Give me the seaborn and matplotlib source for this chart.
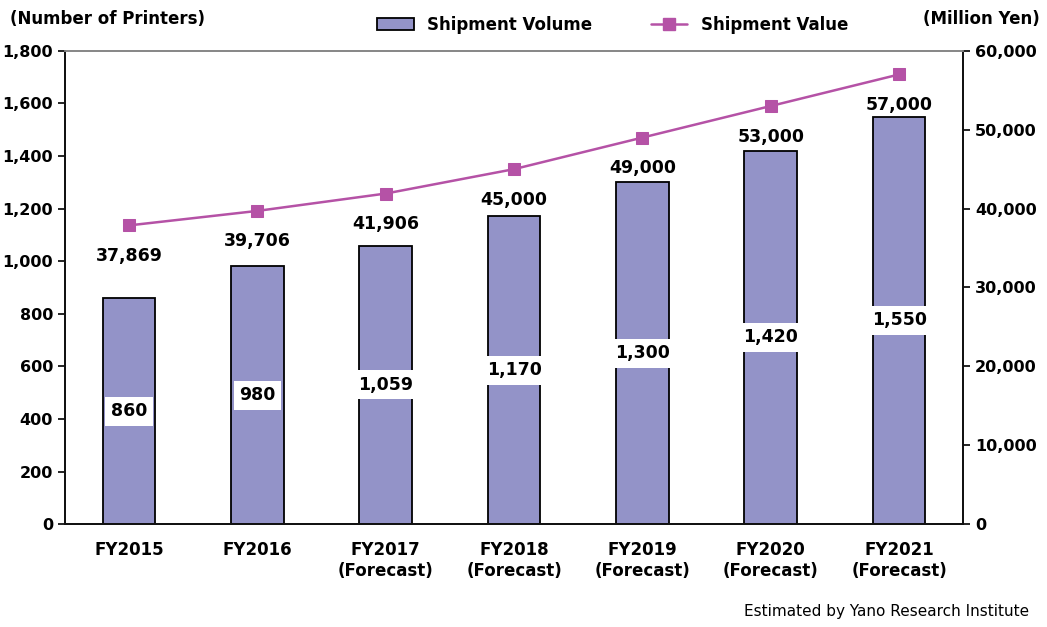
"""Printer shipment volume and value, FY2015-FY2021."""

import matplotlib.pyplot as plt
import numpy as np
import pandas as pd
import seaborn as sns
from matplotlib.lines import Line2D
from matplotlib.patches import Patch

plt.switch_backend("Agg")

CATEGORIES = [
    "FY2015",
    "FY2016",
    "FY2017\n(Forecast)",
    "FY2018\n(Forecast)",
    "FY2019\n(Forecast)",
    "FY2020\n(Forecast)",
    "FY2021\n(Forecast)",
]
VOLUME = [860, 980, 1059, 1170, 1300, 1420, 1550]
VALUE = [37869, 39706, 41906, 45000, 49000, 53000, 57000]

BAR_COLOR = "#9393C8"
LINE_COLOR = "#B552A6"

sns.set_theme(style="white")
plt.rcParams["font.family"] = ["DejaVu Sans"]
plt.rcParams["font.weight"] = "bold"
plt.rcParams["text.color"] = "black"
plt.rcParams["xtick.color"] = "black"
plt.rcParams["ytick.color"] = "black"
plt.rcParams["xtick.labelcolor"] = "black"
plt.rcParams["ytick.labelcolor"] = "black"

df = pd.DataFrame({"year": CATEGORIES, "volume": VOLUME, "value": VALUE})

fig = plt.figure(figsize=(10.47, 6.27), dpi=100)
ax = fig.add_axes([0.062, 0.164, 0.858, 0.755])

sns.barplot(
    data=df, x="year", y="volume", color=BAR_COLOR, width=0.41,
    edgecolor="black", linewidth=1.3, saturation=1, ax=ax,
)
ax.set_ylim(0, 1800)
ax.set_yticks(np.arange(0, 1801, 200))
ax.set_yticklabels([f"{v:,}" for v in range(0, 1801, 200)], fontsize=11.5, fontweight="bold")
ax.set_xlim(-0.5, len(CATEGORIES) - 0.5)
ax.set_xlabel("")
ax.set_ylabel("")
ax.set_xticks(range(len(CATEGORIES)))
ax.set_xticklabels(CATEGORIES, fontsize=12, fontweight="bold", linespacing=1.2)
ax.set_xticks(np.arange(0.5, len(CATEGORIES) - 0.5, 1), minor=True)
ax.tick_params(axis="x", which="major", length=0, pad=12)
ax.tick_params(axis="x", which="minor", direction="in", length=5, width=1, color="#555555")
ax.tick_params(axis="y", which="major", direction="out", length=5, width=1.2, left=True)

for i, v in enumerate(VOLUME):
    ax.text(i, v / 2, f"{v:,}", ha="center", va="center", fontsize=12.5, fontweight="bold",
            bbox=dict(facecolor="white", edgecolor="none", pad=4))

ax2 = ax.twinx()
sns.lineplot(
    data=df, x="year", y="value", color=LINE_COLOR, marker="s", markersize=8,
    markeredgecolor=LINE_COLOR, linewidth=1.8, ax=ax2,
)
ax2.set_ylim(0, 60000)
ax2.set_yticks(np.arange(0, 60001, 10000))
ax2.set_yticklabels([f"{v:,}" for v in range(0, 60001, 10000)], fontsize=11.5, fontweight="bold")
ax2.set_ylabel("")
ax2.tick_params(axis="y", direction="out", length=5, width=1.2, right=True)

for i, v in enumerate(VALUE):
    ax2.annotate(f"{v:,}", (i, v), xytext=(0, -22), textcoords="offset points",
                 ha="center", va="center", fontsize=12.5, fontweight="bold",
                 bbox=dict(facecolor="white", edgecolor="none", pad=1))

for a in (ax, ax2):
    for side in ("left", "right", "bottom"):
        a.spines[side].set_color("#111111")
        a.spines[side].set_linewidth(1.3)
    a.spines["top"].set_color("#888888")
    a.spines["top"].set_linewidth(1.3)

handles = [
    Patch(facecolor=BAR_COLOR, edgecolor="black", linewidth=1.3, label="Shipment Volume"),
    Line2D([], [], color=LINE_COLOR, marker="s", markersize=8, linewidth=1.8, label="Shipment Value"),
]
fig.legend(handles=handles, loc="center", bbox_to_anchor=(0.585, 0.96), ncol=2, frameon=False,
           prop={"size": 12, "weight": "bold"}, columnspacing=3.5, handlelength=2.2)

fig.text(0.01, 0.97, "(Number of Printers)", ha="left", va="center", fontsize=12, fontweight="bold")
fig.text(0.993, 0.97, "(Million Yen)", ha="right", va="center", fontsize=12, fontweight="bold")
fig.text(0.983, 0.025, "Estimated by Yano Research Institute", ha="right", va="center",
         fontsize=11, fontweight="normal")

fig.savefig("out.png", dpi=100)
